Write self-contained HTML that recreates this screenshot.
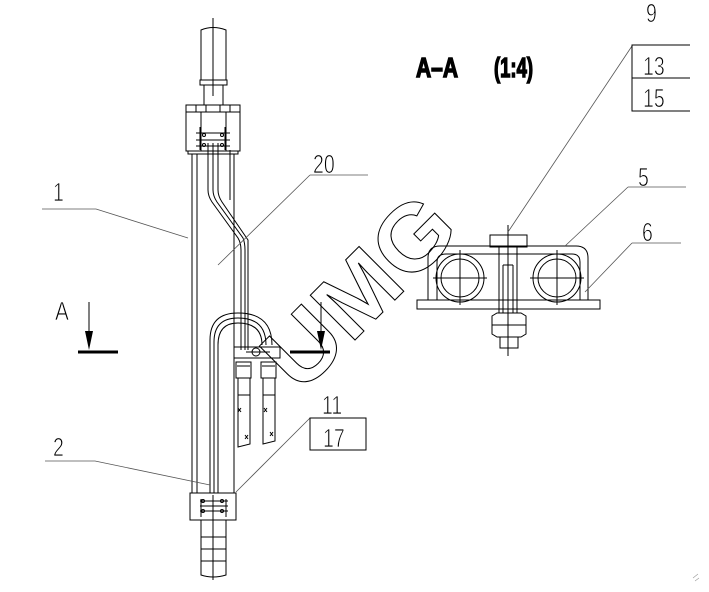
<!DOCTYPE html>
<html><head><style>body{margin:0;background:#fff}svg{display:block}</style></head><body>
<svg width="709" height="592" viewBox="0 0 709 592" xmlns="http://www.w3.org/2000/svg" font-family="Liberation Sans, sans-serif">
<g fill="none" stroke="#000" stroke-width="1">
<path d="M201,30 Q213,25 226,30 L226,80 L201,80 Z"/>
<rect x="200" y="80" width="27" height="5"/>
<path d="M204,85 V105 M223,85 V105"/>
<line x1="213" y1="18" x2="213" y2="96"/>
<rect x="186" y="105" width="54" height="7"/>
<path d="M196,105 V112 M206,105 V112 M220,105 V112 M230,105 V112"/>
<rect x="186" y="112" width="54" height="39"/>
<path d="M201,112 V151 M226,112 V151 M196,133 H230 M196,140 H230 M196,146 H230 M200,127 V150 M225,127 V150 M188,151 V154 H238 V151"/>
<circle cx="204" cy="135" r="1.5"/><circle cx="222" cy="135" r="1.5"/><circle cx="204" cy="145" r="1.5"/><circle cx="222" cy="145" r="1.5"/>
<path d="M192,154 V493 M197,154 V493 M234,154 V493"/>
<path d="M208,143 V190 Q208,196 212,202 L238,238 Q241,243 241,250 V350"/>
<path d="M213,143 V190 Q213,196 217,202 L243,238 Q245,243 245,250 V350"/>
<path d="M218,143 V190 Q218,196 222,202 L248,240 V350"/>
<path d="M230,150 V200"/>
<path d="M210,493 V340 Q210,313 238,313 Q272,313 272,345"/>
<path d="M214,493 V342 Q214,318 238,318 Q266,318 266,345"/>
<path d="M218,493 V345 Q218,323 238,323 Q262,323 262,345"/>
<rect x="234" y="347" width="46" height="11"/>
<circle cx="256" cy="352" r="4"/>
<line x1="246" y1="352" x2="270" y2="352"/>
<rect x="236" y="362" width="15" height="16"/><rect x="261" y="362" width="15" height="16"/>
<path d="M237,366 H250 M262,366 H275"/>
<path d="M238,378 V447 L250,444 V378 M263,378 V444 L275,441 V378 M238,395 H250 M263,395 H275"/>
<path d="M238,408 l3,4 M241,408 l-3,4 M264,408 l3,4 M267,408 l-3,4 M245,435 l3,4 M248,435 l-3,4 M270,432 l3,4 M273,432 l-3,4"/>
<rect x="190" y="493" width="46" height="27"/>
<path d="M201,499 V517 M226,499 V517 M200,501 H228 M200,506 H228 M200,511 H228"/>
<circle cx="203" cy="501" r="1.5"/><circle cx="222" cy="501" r="1.5"/><circle cx="203" cy="511" r="1.5"/><circle cx="222" cy="511" r="1.5"/>
<path d="M201,520 V575 Q213,579 226,575 V520 M201,537 H226 M201,549 H226 M201,561 H226"/>
<line x1="213" y1="495" x2="213" y2="580"/>
<rect x="417" y="300" width="183" height="9"/>
<path d="M428,300 V258 Q428,246 440,246 H576 Q588,246 588,258 V300"/>
<path d="M437,300 V262 Q437,254 446,254 H572 Q580,254 580,262 V300"/>
<circle cx="460" cy="278" r="24"/><circle cx="460" cy="278" r="19"/>
<circle cx="557" cy="278" r="24"/><circle cx="557" cy="278" r="19"/>
<path d="M433,278 H487 M460,250 V305 M530,278 H584 M557,250 V305"/>
<rect x="490" y="235" width="37" height="12"/>
<rect x="499" y="247" width="18" height="66"/>
<path d="M503,265 H513 M503,265 V313 M513,265 V313"/>
<path d="M492,316 L497,313 H521 L526,316 V334 L521,337 H497 L492,334 Z M492,325 H526"/>
<rect x="500" y="337" width="18" height="11"/>
<line x1="508" y1="225" x2="508" y2="356"/>
</g>
<g fill="none" stroke="#555" stroke-width="0.8">
<path d="M42,209 H96 L188,238"/>
<path d="M310,175 H368 M310,175 L218,265"/>
<path d="M45,461 H95 L210,485"/>
<path d="M310,418 L236,492"/>
<path d="M632,46 L508,232"/>
<path d="M628,187 H686 M628,187 L565,246"/>
<path d="M632,243 H681 M632,243 L585,292"/>
</g>
<g fill="none" stroke="#000" stroke-width="1">
<rect x="310" y="418" width="56" height="32"/>
<path d="M690,45 H632 V111 H690 M632,78 H690"/>
</g>
<g font-size="26" fill="#000" stroke="#fff" stroke-width="0.8">
<text transform="translate(53,201) scale(0.75,1)">1</text>
<text transform="translate(313,173) scale(0.75,1)">20</text>
<text transform="translate(53,456) scale(0.75,1)">2</text>
<text transform="translate(322,414) scale(0.75,1)">11</text>
<text transform="translate(323,447) scale(0.75,1)">17</text>
<text transform="translate(646,22) scale(0.75,1)">9</text>
<text transform="translate(643,75) scale(0.75,1)">13</text>
<text transform="translate(643,107) scale(0.75,1)">15</text>
<text transform="translate(638,186) scale(0.75,1)">5</text>
<text transform="translate(642,241) scale(0.75,1)">6</text>
<text transform="translate(55,320) scale(0.8,1)">A</text>
</g>
<g stroke="#000">
<line x1="78" y1="352" x2="118" y2="352" stroke-width="3"/>
<line x1="89" y1="302" x2="89" y2="345"/>
<line x1="290" y1="352" x2="330" y2="352" stroke-width="3"/>
<line x1="321" y1="302" x2="321" y2="345"/>
</g>
<path d="M85,331 L93,331 L89,350 Z M317,331 L325,331 L321,350 Z" fill="#000"/>
<g font-size="28" font-weight="bold" fill="#000" stroke="#000" stroke-width="1.5">
<text x="416" y="77" textLength="42" lengthAdjust="spacingAndGlyphs">A–A</text>
<text x="494" y="77" textLength="39" lengthAdjust="spacingAndGlyphs">(1:4)</text>
</g>
<text x="0" y="0" transform="translate(300,395) rotate(-45)" font-size="92" font-weight="bold" fill="none" stroke="#000" stroke-width="1" textLength="230" lengthAdjust="spacingAndGlyphs">UMG</text>
<path d="M693,578 l5,-4 M695,581 l4,-3" stroke="#999" stroke-width="0.6"/>
</svg>
</body></html>
